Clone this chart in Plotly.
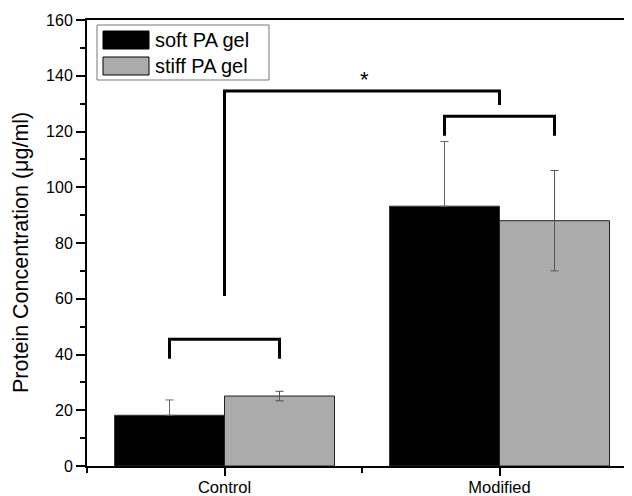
import plotly.graph_objects as go

# ---------------- data ----------------
categories = ["Control", "Modified"]
series_names = ["soft PA gel", "stiff PA gel"]
soft_values = [18.2, 93.2]
soft_err_plus = [5.5, 23.2]
stiff_values = [25.1, 88.0]
stiff_err = [1.7, 18.0]

y_ticks = [0, 20, 40, 60, 80, 100, 120, 140, 160]

# significance brackets (x in category index units, y in data units)
pair_brackets = [  # (x_left, x_right, y_top, y_leg_bottom)
    (-0.2, 0.2, 45.5, 38.5),
    (0.8, 1.2, 125.5, 118.5),
]
main_bracket = dict(x_left=0.0, x_right=1.0, y_top=134.5, y_left_bottom=61.0, y_right_bottom=129.5)
star_label = "*"
star_pos = (0.51, 138.6)

# ---------------- style ----------------
FONT = "Arial, Liberation Sans, sans-serif"
SOFT_COLOR = "#000000"
STIFF_COLOR = "#ababab"
OFF = 8  # page body margin offset
W, H = 632 - OFF, 496 - OFF
ML, MR, MT, MB = 87 - OFF, 0, 20 - OFF, 30
PW, PH = W - ML - MR, H - MT - MB

def px_x(px):
    return (px - OFF - ML) / PW

def px_y(py):
    return (H - MB - (py - OFF)) / PH

x_idx = list(range(len(categories)))

fig = go.Figure()
fig.add_trace(go.Bar(
    x=x_idx, y=soft_values, name=series_names[0],
    marker=dict(color=SOFT_COLOR, line=dict(color="#333333", width=1)),
    error_y=dict(type="data", symmetric=False, array=soft_err_plus,
                 arrayminus=[0] * len(soft_values), color="#666666",
                 thickness=1, width=4),
    showlegend=False,
))
fig.add_trace(go.Bar(
    x=x_idx, y=stiff_values, name=series_names[1],
    marker=dict(color=STIFF_COLOR, line=dict(color="#222222", width=1)),
    error_y=dict(type="data", array=stiff_err, color="#555555",
                 thickness=1, width=4),
    showlegend=False,
))

shapes = []
for xl, xr, yt, yb in pair_brackets:
    shapes.append(dict(type="path", xref="x", yref="y",
                       path=f"M {xl},{yb} L {xl},{yt} L {xr},{yt} L {xr},{yb}",
                       line=dict(color="black", width=3)))
mb = main_bracket
shapes.append(dict(type="path", xref="x", yref="y",
                   path=(f"M {mb['x_left']},{mb['y_left_bottom']} L {mb['x_left']},{mb['y_top']} "
                         f"L {mb['x_right']},{mb['y_top']} L {mb['x_right']},{mb['y_right_bottom']}"),
                   line=dict(color="black", width=3)))

# legend (drawn manually)
shapes.append(dict(type="rect", xref="paper", yref="paper",
                   x0=px_x(97), x1=px_x(269), y0=px_y(80), y1=px_y(25),
                   line=dict(color="#777777", width=1), fillcolor="white"))
legend_colors = [SOFT_COLOR, STIFF_COLOR]
legend_rows = [(31, 49), (57, 75)]
annotations = []
for name, col, (t, b) in zip(series_names, legend_colors, legend_rows):
    shapes.append(dict(type="rect", xref="paper", yref="paper",
                       x0=px_x(103), x1=px_x(149), y0=px_y(b), y1=px_y(t),
                       line=dict(color="black", width=1), fillcolor=col))
    annotations.append(dict(text=name, xref="paper", yref="paper",
                            x=px_x(153), y=px_y((t + b) / 2), xanchor="left", yanchor="middle",
                            showarrow=False, font=dict(family=FONT, size=20, color="black")))

annotations.append(dict(text=star_label, xref="x", yref="y", x=star_pos[0], y=star_pos[1],
                        showarrow=False, font=dict(family=FONT, size=22, color="black"),
                        xanchor="center", yanchor="middle"))
annotations.append(dict(text="Protein Concentration (μg/ml)", xref="paper", yref="paper",
                        x=px_x(21), y=px_y(253), textangle=-90, showarrow=False,
                        xanchor="center", yanchor="middle",
                        font=dict(family=FONT, size=21.5, color="black")))

fig.update_layout(
    width=W, height=H,
    margin=dict(l=ML, r=MR, t=MT, b=MB, pad=0),
    template="none",
    paper_bgcolor="white", plot_bgcolor="white",
    barmode="group", bargap=0.2, bargroupgap=0,
    shapes=shapes, annotations=annotations,
    showlegend=False,
    font=dict(family=FONT, color="black"),
)
fig.update_xaxes(
    range=[-0.5, -0.5 + PW / 275.0],
    tickmode="array", tickvals=x_idx, ticktext=categories,
    ticks="outside", ticklen=8, tickwidth=2, tickcolor="black",
    minor=dict(tick0=0.5, dtick=1, ticks="outside", ticklen=5, tickwidth=2, tickcolor="black"),
    showline=True, linecolor="black", linewidth=2, mirror=True,
    showgrid=False, zeroline=False, automargin=False,
    ticklabelstandoff=-3,
    tickfont=dict(family=FONT, size=16.5, color="black"),
)
fig.update_yaxes(
    range=[0, 160], tickmode="array", tickvals=y_ticks,
    ticks="outside", ticklen=9, tickwidth=2, tickcolor="black",
    minor=dict(dtick=10, ticks="outside", ticklen=5, tickwidth=2, tickcolor="black"),
    showline=True, linecolor="black", linewidth=2, mirror=False,
    showgrid=False, zeroline=False, automargin=False,
    tickfont=dict(family=FONT, size=16, color="black"),
)

fig.write_html("out.html")
